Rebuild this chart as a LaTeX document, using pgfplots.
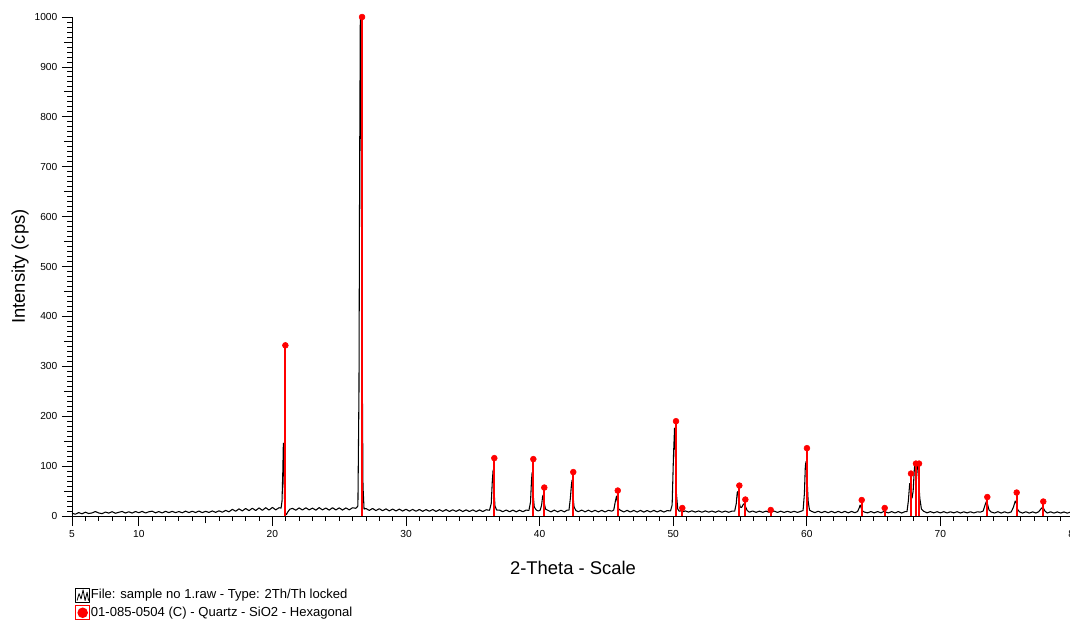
\documentclass[border=0pt]{standalone}
\usepackage{fontspec}
\setmainfont{Liberation Sans}
\usepackage{pgfplots}
\pgfplotsset{compat=1.18}
\begin{document}
\begin{tikzpicture}
\useasboundingbox (0,0) rectangle (802.5pt,464.25pt);
\begin{axis}[
  at={(54pt,77.25pt)}, anchor=south west,
  scale only axis, width=751.5pt, height=374.25pt,
  xmin=5, xmax=80, ymin=0, ymax=1000,
  axis lines=left, axis line style={-, line width=0.75pt, black},
  clip=false,
  tick align=outside,
  every tick/.style={black, line width=0.6pt},
  major tick length=7.5pt, minor tick length=3.6pt,
  xtick={5,10,20,30,40,50,60,70,80},
  minor xtick={5,6,...,80},
  extra x ticks={15}, extra x tick labels={},
  extra x tick style={major tick length=5.5pt},
  ytick={0,100,...,1000},
  minor ytick={0,10,...,1000},
  extra y ticks={50,150,...,950}, extra y tick labels={},
  extra y tick style={major tick length=5.8pt},
  /pgf/number format/assume math mode=true,
  /pgf/number format/1000 sep={},
  ticklabel style={font=\fontsize{7.65}{9}\selectfont},
  xlabel={2-Theta - Scale},
  ylabel={Intensity (cps)},
  label style={font=\fontsize{13.8}{16}\selectfont},
  xlabel style={at={(axis description cs:0.5,-0.1042)}, anchor=center},
  ylabel style={at={(axis description cs:-0.0519,0.5)}, anchor=center},
  legend cell align=left,
  legend style={draw=none, fill=none, at={(axis description cs:0.003,-0.143)}, anchor=north west,
    font=\fontsize{9.8}{11}\selectfont, inner sep=0pt, row sep=2.3pt,
    nodes={inner sep=0.6pt}},
]
\addplot[black, line width=0.8pt, line join=round,
  legend image code/.code={
    \draw[black,line width=0.6pt] (0pt,-5.2pt) rectangle (10.4pt,5.2pt);
    \draw[black,line width=0.6pt] (1pt,-4.2pt) -- (2.5pt,1pt) -- (4pt,-3pt) -- (5.5pt,3.8pt) -- (7pt,-4.2pt) -- (8.5pt,2pt) -- (9.6pt,-4.2pt);
  }] table {
5.00 5.5
5.25 3.6
5.50 6.8
5.75 4.5
6.00 7.6
6.25 5.0
6.50 6.2
6.75 8.9
7.00 6.1
7.25 4.7
7.50 7.9
7.75 5.8
8.00 8.6
8.25 5.5
8.50 7.4
8.75 9.1
9.00 6.0
9.25 8.5
9.50 5.9
9.75 9.0
10.00 6.6
10.25 9.2
10.50 6.1
10.75 8.4
11.00 9.6
11.25 6.4
11.50 8.9
11.75 6.2
12.00 9.4
12.25 6.8
12.50 9.3
12.75 6.7
13.00 9.0
13.25 6.5
13.50 9.7
13.75 6.9
14.00 9.5
14.25 7.0
14.50 9.9
14.75 6.8
15.00 9.4
15.25 7.1
15.50 10.1
15.75 7.3
16.00 10.4
16.25 7.6
16.50 11.2
16.75 8.4
17.00 13.4
17.25 9.6
17.50 14.3
17.75 10.2
18.00 15.1
18.25 10.8
18.50 15.6
18.75 11.0
19.00 16.2
19.25 11.4
19.50 16.7
19.75 11.9
20.00 17.2
20.25 12.3
20.50 16.6
20.65 15.8
20.72 30
20.78 90
20.82 146
20.87 80
20.92 20
20.97 6
21.05 3
21.15 8
21.30 13.5
21.50 15.4
21.75 11.6
22.00 16.2
22.25 12.0
22.50 16.5
22.75 12.3
23.00 15.8
23.25 11.7
23.50 16.8
23.75 12.2
24.00 16.1
24.25 11.8
24.50 16.6
24.75 12.1
25.00 16.3
25.25 11.9
25.50 16.2
25.75 12.4
26.00 16.5
26.25 15.5
26.40 20
26.48 250
26.53 700
26.58 998
26.64 850
26.70 400
26.78 60
26.86 14
27.00 15.0
27.25 11.2
27.50 15.1
27.75 10.9
28.00 14.6
28.25 10.6
28.50 14.3
28.75 10.2
29.00 14.0
29.25 10.1
29.50 13.8
29.75 9.9
30.00 13.6
30.25 9.8
30.50 13.2
30.75 9.5
31.00 13.1
31.25 9.4
31.50 12.9
31.75 9.6
32.00 13.0
32.25 9.1
32.50 12.7
32.75 9.3
33.00 12.8
33.25 9.0
33.50 12.5
33.75 9.2
34.00 12.6
34.25 8.9
34.50 12.3
34.75 9.0
35.00 12.4
35.25 8.8
35.50 12.2
35.75 8.9
36.00 12.5
36.25 11.5
36.38 25
36.46 70
36.52 92
36.58 55
36.66 20
36.78 12
37.00 11.9
37.25 8.6
37.50 12.0
37.75 8.5
38.00 11.8
38.25 8.4
38.50 11.7
38.75 8.6
39.00 11.9
39.20 11.2
39.32 28
39.39 70
39.44 87
39.51 45
39.60 18
39.75 12
39.90 10
40.05 12
40.15 22
40.22 38
40.26 42
40.33 28
40.44 14
40.60 11.6
40.85 8.4
41.10 11.8
41.35 8.3
41.60 11.5
41.85 8.2
42.05 11.6
42.20 12
42.30 35
42.38 62
42.43 72
42.50 40
42.58 18
42.72 11
42.90 8.6
43.15 11.9
43.40 8.4
43.65 11.6
43.90 8.3
44.15 11.5
44.40 8.2
44.65 11.4
44.90 8.1
45.15 11.5
45.40 9.6
45.55 12
45.66 28
45.76 40
45.82 30
45.92 14
46.05 11.5
46.30 8.1
46.55 11.3
46.80 8.0
47.05 11.2
47.30 7.9
47.55 11.2
47.80 7.8
48.05 11.0
48.30 8.0
48.55 11.3
48.80 8.1
49.05 11.1
49.30 7.9
49.55 10.8
49.80 10.2
49.92 22
50.02 120
50.10 176
50.16 130
50.24 45
50.34 14
50.45 9.5
50.57 10.5
50.64 11.5
50.74 8.6
50.90 10.2
51.15 7.9
51.40 10.4
51.65 7.8
51.90 10.1
52.15 7.6
52.40 10.3
52.65 7.7
52.90 10.0
53.15 7.5
53.40 10.2
53.65 7.6
53.90 9.9
54.15 7.4
54.40 9.8
54.60 9.6
54.72 25
54.79 47
54.84 49
54.92 30
55.02 18
55.12 17
55.22 22
55.33 25
55.42 18
55.54 11
55.70 7.6
55.95 10.0
56.20 7.3
56.45 9.7
56.70 7.4
56.95 9.8
57.15 7.6
57.27 10.5
57.37 8.6
57.55 9.9
57.80 7.2
58.05 9.6
58.30 7.1
58.55 9.5
58.80 7.3
59.05 9.4
59.30 7.2
59.55 9.3
59.72 11
59.82 45
59.89 100
59.94 109
60.01 80
60.10 30
60.20 12
60.35 9.4
60.60 6.8
60.85 9.5
61.10 6.7
61.35 9.3
61.60 6.6
61.85 9.4
62.10 6.5
62.35 9.2
62.60 6.6
62.85 9.3
63.10 6.4
63.35 9.1
63.60 6.6
63.80 9.0
63.92 16
63.99 22
64.06 17
64.16 10.5
64.30 8.0
64.55 6.3
64.80 9.0
65.05 6.2
65.30 8.9
65.55 6.4
65.72 8.5
65.80 10.5
65.90 8.0
66.10 6.2
66.35 8.8
66.60 6.1
66.85 8.9
67.10 6.0
67.35 8.7
67.50 9
67.60 30
67.70 65
67.78 55
67.88 36
67.96 50
68.05 95
68.12 109
68.20 100
68.27 105
68.36 75
68.46 35
68.58 14
68.75 9.5
69.00 6.4
69.25 8.8
69.50 6.3
69.75 8.6
70.00 6.2
70.25 8.7
70.50 6.1
70.75 8.5
71.00 6.3
71.25 8.6
71.50 6.0
71.75 8.4
72.00 6.2
72.25 8.5
72.50 6.1
72.75 8.3
73.00 7.8
73.20 10
73.34 22
73.44 29
73.52 24
73.64 12
73.80 8.0
74.05 6.0
74.30 8.6
74.55 5.9
74.80 8.4
75.05 6.1
75.30 8.2
75.47 18
75.60 30
75.68 26
75.78 13
75.92 8.3
76.15 5.9
76.40 8.5
76.65 5.8
76.90 8.3
77.15 6.0
77.35 8.5
77.52 14
77.64 17
77.72 15
77.84 9.5
78.00 6.0
78.25 8.4
78.50 5.8
78.75 8.2
79.00 5.9
79.25 8.1
79.50 5.7
79.75 8.0
80.00 6.0
};
\addlegendentry{File: sample no 1.raw - Type: 2Th/Th locked}
\addplot[ycomb, red, line width=1.6pt, mark=*,
  mark options={fill=red, draw=red, line width=0.4pt}, mark size=2.2pt,
  legend image code/.code={
    \draw[draw=red,line width=0.7pt] (0pt,-5.2pt) rectangle (10.4pt,5.2pt);
    \fill[red] (5.2pt,0pt) circle (3.1pt);
  }] table {
20.97 342
26.71 1000
36.61 116
39.53 114
40.35 57
42.52 88
45.85 51
50.21 190
50.68 16
54.95 61
55.40 33
57.30 12
60.01 136
64.11 32
65.83 16
67.80 85
68.17 105
68.40 105
73.51 38
75.71 47
77.70 29
};
\addlegendentry{01-085-0504 (C) - Quartz - SiO2 - Hexagonal}
\end{axis}
\end{tikzpicture}
\end{document}
